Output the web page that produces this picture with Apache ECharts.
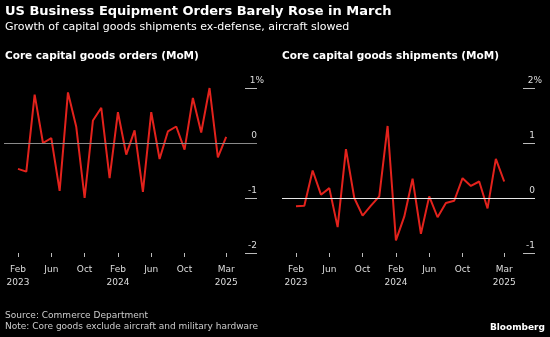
<!DOCTYPE html>
<html><head><meta charset="utf-8">
<script src="https://cdn.jsdelivr.net/npm/echarts@6/dist/echarts.min.js"></script>
<style>html,body{margin:0;padding:0;background:#000}#c{width:550px;height:337px}</style>
</head><body><div id="c"></div>
<script>
// Months (Feb 2023 - Mar 2025)
const months = ['2023-02','2023-03','2023-04','2023-05','2023-06','2023-07','2023-08','2023-09','2023-10','2023-11','2023-12',
  '2024-01','2024-02','2024-03','2024-04','2024-05','2024-06','2024-07','2024-08','2024-09','2024-10','2024-11','2024-12',
  '2025-01','2025-02','2025-03'];
// Core capital goods orders, MoM %
const orders = [-0.47,-0.52,0.88,0.00,0.09,-0.87,0.92,0.29,-1.00,0.41,0.64,-0.64,0.56,-0.21,0.23,-0.89,0.56,-0.29,0.21,0.30,-0.12,0.82,0.19,1.00,-0.26,0.11];
// Core capital goods shipments, MoM %
const shipments = [-0.15,-0.14,0.50,0.06,0.18,-0.53,0.89,0.00,-0.32,-0.14,0.03,1.31,-0.77,-0.34,0.35,-0.65,0.03,-0.35,-0.09,-0.05,0.36,0.22,0.30,-0.19,0.71,0.30];
// X tick months and their labels
const tickMonths = ['2023-02','2023-06','2023-10','2024-02','2024-06','2024-10','2025-03'];
const tickLabels = ['Feb\n2023','Jun','Oct','Feb\n2024','Jun','Oct','Mar\n2025'];

function mIdx(s){const [y,m]=s.split('-').map(Number);return (y-2023)*12+(m-1);}
const tickIdx = tickMonths.map(mIdx);
const labelMap = {}; tickIdx.forEach((v,i)=>labelMap[v]=tickLabels[i]);

const chart = echarts.init(document.getElementById('c'));
const F = 'DejaVu Sans, Verdana, sans-serif';

function xAx(gi){
  return {type:'value',gridIndex:gi,min:-0.68,max:29.7,
    axisLine:{show:false,onZero:false},splitLine:{show:false},
    axisTick:{show:true,customValues:tickIdx,length:4,lineStyle:{color:'#bbb',width:1}},
    axisLabel:{customValues:tickIdx,formatter:v=>labelMap[Math.round(v)]||'',color:'#ddd',fontSize:9,fontFamily:F,lineHeight:13,margin:10}
  };
}
function yAx(gi,min,max){
  return {type:'value',gridIndex:gi,position:'right',min:min,max:max,interval:1,
    axisLine:{show:false,onZero:false},splitLine:{show:false},
    axisTick:{show:true,inside:true,length:12,lineStyle:{color:'#bbb',width:1}},
    axisLabel:{inside:true,margin:-7,align:'right',verticalAlign:'bottom',color:'#ddd',fontSize:9,fontFamily:F,
      formatter:v=>v===max?'{a|'+v+'%}':'{b|'+v+'}',
      rich:{a:{fontSize:9,fontFamily:F,color:'#ddd',padding:[0,0,3,0]},b:{fontSize:9,fontFamily:F,color:'#ddd',padding:[0,7,3,0]}}}
  };
}
function ser(gi,vals,zc){
  return {type:'line',xAxisIndex:gi,yAxisIndex:gi,data:months.map((m,i)=>[mIdx(m),vals[i]]),
    symbol:'none',lineStyle:{color:'#e3221c',width:2},itemStyle:{color:'#e3221c'},
    markLine:{silent:true,symbol:'none',label:{show:false},lineStyle:{color:zc,width:1,type:'solid'},data:[{yAxis:0}]},
    animation:false};
}
const T = (text,pos,size,weight,color)=>Object.assign({text:text,padding:0,
  textStyle:{color:color,fontSize:size,fontWeight:weight,fontFamily:F,lineHeight:size+2}},pos);
const opt = {
  backgroundColor:'#000',animation:false,
  title:[
    T('US Business Equipment Orders Barely Rose in March',{left:5,top:4},13,'bold','#fff'),
    T('Growth of capital goods shipments ex-defense, aircraft slowed',{left:5,top:21},11,'normal','#fff'),
    T('Core capital goods orders (MoM)',{left:5,top:50},10.5,'bold','#fff'),
    T('Core capital goods shipments (MoM)',{left:282,top:50},10.5,'bold','#fff'),
    T('Source: Commerce Department',{left:5,top:310},9,'normal','#ccc'),
    T('Note: Core goods exclude aircraft and military hardware',{left:5,top:321},9,'normal','#ccc'),
    T('Bloomberg',{right:5,top:322},9,'bold','#fff')
  ],
  grid:[{left:4,width:253,top:88,height:165},{left:282,width:253,top:88,height:165}],
  xAxis:[xAx(0),xAx(1)],
  yAxis:[yAx(0,-2,1),yAx(1,-1,2)],
  series:[ser(0,orders,'#8a8a8a'),ser(1,shipments,'#e6e6e6')]
};
chart.setOption(opt);
</script></body></html>
